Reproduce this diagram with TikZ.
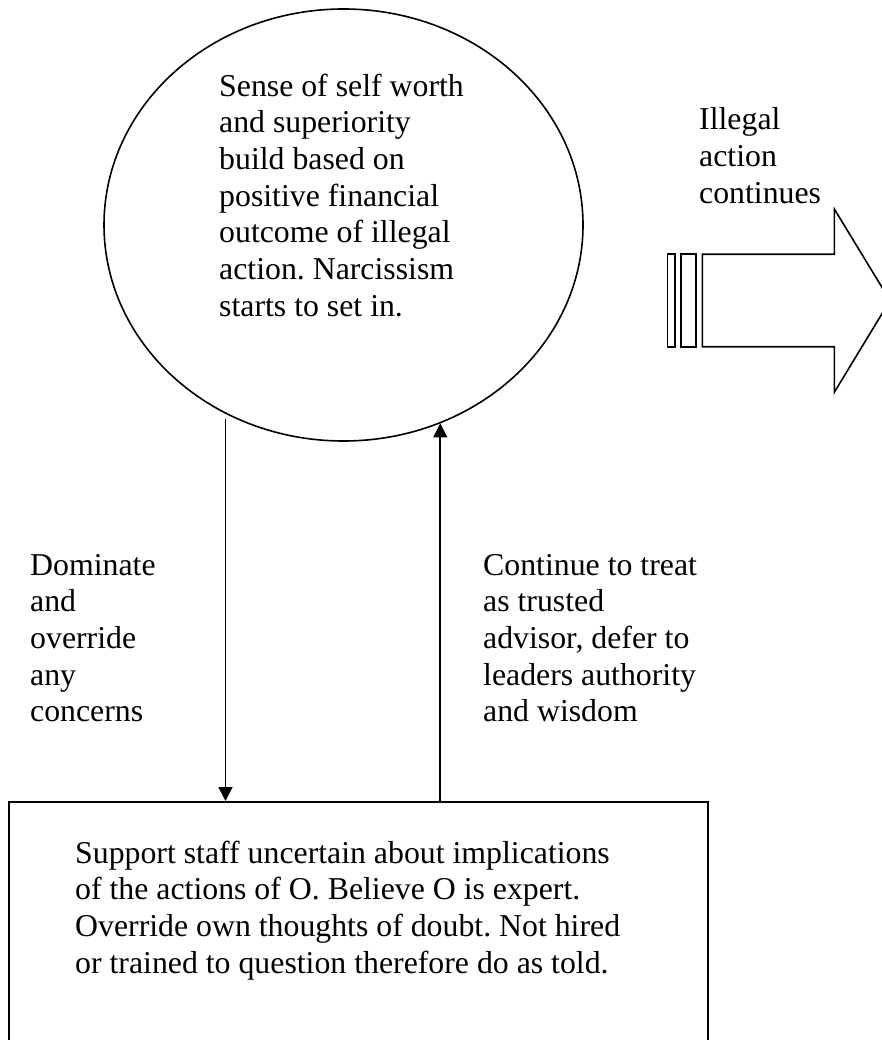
\documentclass[tikz,border=0pt]{standalone}
\usepackage{fontspec}
\setmainfont{Liberation Serif}
\frenchspacing
\usetikzlibrary{shapes.geometric,arrows.meta}
\tikzset{
  % multi-line texts are placed by the baseline of their last line
  txt/.style={anchor=base west, inner sep=0pt, align=left,
    font={\fontsize{31.8}{36.7}\selectfont}},
  outline/.style={draw=black, line width=1.6pt},
  link/.style={draw=black, line width=1.6pt, -{Triangle[width=14pt,length=14pt]}},
}
\begin{document}
\begin{tikzpicture}[x=1pt,y=1pt]
\useasboundingbox (0,0) rectangle (882,-1040);
\clip (0,0) rectangle (882,-1040);

% self-worth ellipse and its text
\node[outline, ellipse, minimum width=479pt, minimum height=432pt, inner sep=0pt]
  (worth) at (343.5,-225) {};
\node[txt] (worthtxt) at (219,-316.2)
  {Sense of self worth\\and superiority\\build based on\\positive financial\\outcome of illegal\\action. Narcissism\\starts to set in.};

% support staff box (runs past the lower edge)
\node[outline, line width=2pt, rectangle, anchor=north west, minimum width=699pt,
  minimum height=320pt, inner sep=0pt] (staff) at (7.5,-801) {};
\node[txt] (stafftxt) at (75,-973.1)
  {Support staff uncertain about implications\\of the actions of O. Believe O is expert.\\Override own thoughts of doubt. Not hired\\or trained to question therefore do as told.};

% connectors
\coordinate (downstart) at ([yshift=-5pt]worth.-122.8);
\draw[link] (downstart) -- (downstart |- staff.north);
\draw[link] (worth.-64 |- staff.north) -- (worth.-64);

\node[txt] (dominate) at (30,-721.8)
  {Dominate\\and\\override\\any\\concerns};
\node[txt] (continue) at (483,-721.8)
  {Continue to treat\\as trusted\\advisor, defer to\\leaders authority\\and wisdom};

% striped block arrow
\node[txt] (illegal) at (699,-203.4) {Illegal\\action\\continues};
\draw[outline] (702.3,-254.3) -- (834.3,-254.3) -- (834.3,-209)
  -- (890,-300.5) -- (834.3,-392.3) -- (834.3,-346.7) -- (702.3,-346.7) -- cycle;
\draw[outline] (667.3,-254.3) rectangle (675,-346.7);
\draw[outline] (681,-254.3) rectangle (696,-346.7);
\end{tikzpicture}
\end{document}
